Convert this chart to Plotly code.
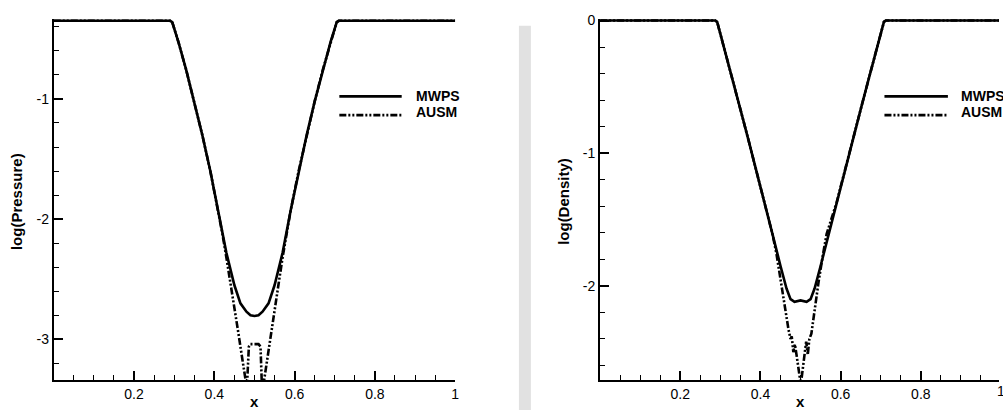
import plotly.graph_objects as go

# ---- log(Pressure) profiles ----
x_p_mwps = [0.0, 0.29, 0.295, 0.31, 0.33, 0.35, 0.37, 0.39, 0.41, 0.43, 0.45, 0.465, 0.48, 0.49, 0.50,
            0.51, 0.52, 0.535, 0.55, 0.57, 0.59, 0.61, 0.63, 0.65, 0.67, 0.69, 0.705, 0.71, 1.0]
lp_mwps = [-0.35, -0.35, -0.36, -0.52, -0.76, -1.02, -1.30, -1.60, -1.93, -2.28, -2.55, -2.70, -2.77, -2.80, -2.805,
           -2.80, -2.77, -2.70, -2.55, -2.28, -1.93, -1.60, -1.30, -1.02, -0.76, -0.52, -0.36, -0.35, -0.35]

x_p_ausm = [0.0, 0.29, 0.295, 0.31, 0.33, 0.35, 0.37, 0.39, 0.41, 0.42, 0.43, 0.44, 0.45, 0.46, 0.47, 0.478,
            0.482, 0.486, 0.49, 0.50, 0.51, 0.515, 0.518, 0.524, 0.53, 0.54, 0.55, 0.56, 0.57, 0.58, 0.59,
            0.61, 0.63, 0.65, 0.67, 0.69, 0.705, 0.71, 1.0]
lp_ausm = [-0.35, -0.35, -0.36, -0.52, -0.76, -1.02, -1.30, -1.60, -1.93, -2.12, -2.32, -2.52, -2.73, -2.95, -3.17, -3.34,
           -3.34, -3.06, -3.04, -3.04, -3.04, -3.06, -3.34, -3.34, -3.20, -2.98, -2.76, -2.54, -2.32, -2.12, -1.93,
           -1.60, -1.30, -1.02, -0.76, -0.52, -0.36, -0.35, -0.35]

# ---- log(Density) profiles ----
x_d_mwps = [0.0, 0.287, 0.292, 0.31, 0.33, 0.35, 0.37, 0.39, 0.41, 0.43, 0.45, 0.465, 0.475, 0.485, 0.50,
            0.515, 0.525, 0.535, 0.55, 0.57, 0.59, 0.61, 0.63, 0.65, 0.67, 0.69, 0.708, 0.713, 1.0]
ld_mwps = [0.0, 0.0, -0.01, -0.21, -0.44, -0.67, -0.90, -1.13, -1.37, -1.61, -1.85, -2.02, -2.10, -2.12, -2.11,
           -2.12, -2.10, -2.02, -1.85, -1.61, -1.37, -1.13, -0.90, -0.67, -0.44, -0.21, -0.01, 0.0, 0.0]

x_d_ausm = [0.0, 0.287, 0.292, 0.31, 0.33, 0.35, 0.37, 0.39, 0.41, 0.43, 0.44, 0.45, 0.46, 0.47, 0.475, 0.478,
            0.482, 0.486, 0.49, 0.495, 0.499, 0.502, 0.506, 0.51, 0.514, 0.518, 0.522, 0.527, 0.535, 0.545, 0.555,
            0.565, 0.59, 0.61, 0.63, 0.65, 0.67, 0.69, 0.708, 0.713, 1.0]
ld_ausm = [0.0, 0.0, -0.01, -0.21, -0.44, -0.67, -0.90, -1.13, -1.37, -1.61, -1.76, -1.96, -2.15, -2.33, -2.40, -2.38,
           -2.50, -2.44, -2.52, -2.62, -2.71, -2.71, -2.60, -2.50, -2.42, -2.52, -2.40, -2.36, -2.17, -1.97, -1.78,
           -1.61, -1.37, -1.13, -0.90, -0.67, -0.44, -0.21, -0.01, 0.0, 0.0]

x_tickvals = [0.2, 0.4, 0.6, 0.8, 1.0]
x_ticktext = ["0.2", "0.4", "0.6", "0.8", "1"]
yp_tickvals = [-3, -2, -1]
yp_ticktext = ["-3", "-2", "-1"]
yd_tickvals = [-2, -1, 0]
yd_ticktext = ["-2", "-1", "0"]

W, H = 1003, 412
FONT = "Liberation Sans, Arial, Helvetica, sans-serif"
DASH = "7px,2px,2px,2px,2px,2px"


def px(v):
    return v / W


def py(v):
    return (H - v) / H


fig = go.Figure()
fig.add_trace(go.Scatter(x=x_p_mwps, y=lp_mwps, mode="lines", line=dict(color="black", width=2.6),
                         xaxis="x", yaxis="y", showlegend=False))
fig.add_trace(go.Scatter(x=x_p_ausm, y=lp_ausm, mode="lines", line=dict(color="black", width=2.6, dash=DASH),
                         xaxis="x", yaxis="y", showlegend=False))
fig.add_trace(go.Scatter(x=x_d_mwps, y=ld_mwps, mode="lines", line=dict(color="black", width=2.6),
                         xaxis="x2", yaxis="y2", showlegend=False))
fig.add_trace(go.Scatter(x=x_d_ausm, y=ld_ausm, mode="lines", line=dict(color="black", width=2.6, dash=DASH),
                         xaxis="x2", yaxis="y2", showlegend=False))

axis_style = dict(showline=True, linecolor="black", linewidth=2, ticks="inside", ticklen=9, tickwidth=2,
                  tickcolor="black", showgrid=False, zeroline=False,
                  tickfont=dict(family=FONT, size=14, color="black"))
minor_x = dict(ticks="inside", ticklen=5, tickwidth=1.3, tickcolor="black", tick0=0, dtick=0.05)
minor_y = dict(ticks="inside", ticklen=5, tickwidth=1.3, tickcolor="black", tick0=0, dtick=0.2)

fig.update_layout(
    width=W, height=H, margin=dict(l=0, r=0, t=0, b=0),
    paper_bgcolor="white", plot_bgcolor="white",
    xaxis=dict(axis_style, domain=[px(54), px(457)], range=[0, 1], anchor="y",
               tickmode="array", tickvals=x_tickvals, ticktext=x_ticktext, minor=minor_x),
    yaxis=dict(axis_style, domain=[py(380), py(13.2)], range=[-3.342, -0.335], anchor="x",
               tickmode="array", tickvals=yp_tickvals, ticktext=yp_ticktext, minor=minor_y),
    xaxis2=dict(axis_style, domain=[px(602.5), 1.0], range=[0, 0.995], anchor="y2",
                tickmode="array", tickvals=x_tickvals, ticktext=x_ticktext, minor=minor_x),
    yaxis2=dict(axis_style, domain=[py(380), py(12.7)], range=[-2.713, 0.015], anchor="x2",
                tickmode="array", tickvals=yd_tickvals, ticktext=yd_ticktext, minor=minor_y),
)

# grey separator between the two frames
fig.add_shape(type="rect", xref="paper", yref="paper", x0=px(521), x1=px(533), y0=py(410), y1=py(20),
              fillcolor="#e1e1e1", line=dict(width=0), layer="below")

# legend samples
for x0, x1, tx in [(340.7, 403.3, 416), (888, 951.7, 963.3)]:
    fig.add_shape(type="line", xref="paper", yref="paper", x0=px(x0), x1=px(x1), y0=py(91.7), y1=py(91.7),
                  line=dict(color="black", width=2.6))
    fig.add_shape(type="line", xref="paper", yref="paper", x0=px(x0), x1=px(x1), y0=py(110.7), y1=py(110.7),
                  line=dict(color="black", width=2.6, dash=DASH))
    for label, yc in [("MWPS", 91.2), ("AUSM", 107.5)]:
        fig.add_annotation(text="<b>%s</b>" % label, xref="paper", yref="paper", x=px(tx), y=py(yc),
                           xanchor="left", yanchor="middle", showarrow=False,
                           font=dict(family=FONT, size=14, color="black"))

# axis titles
for text, xc, yc in [("log(Pressure)", 16, 198), ("log(Density)", 565, 198)]:
    fig.add_annotation(text="<b>%s</b>" % text, xref="paper", yref="paper", x=px(xc), y=py(yc),
                       xanchor="center", yanchor="middle", showarrow=False, textangle=-90,
                       font=dict(family=FONT, size=15, color="black"))
for xc in [255.5, 803.7]:
    fig.add_annotation(text="<b>x</b>", xref="paper", yref="paper", x=px(xc), y=0,
                       xanchor="center", yanchor="bottom", showarrow=False,
                       font=dict(family=FONT, size=15, color="black"))

# the last tick label of the right frame sits past the page edge
fig.add_annotation(text="1", xref="paper", yref="paper", x=px(1005), y=py(390.5), xanchor="center",
                   yanchor="middle", showarrow=False, font=dict(family=FONT, size=14, color="black"))

fig.write_html("out.html")
